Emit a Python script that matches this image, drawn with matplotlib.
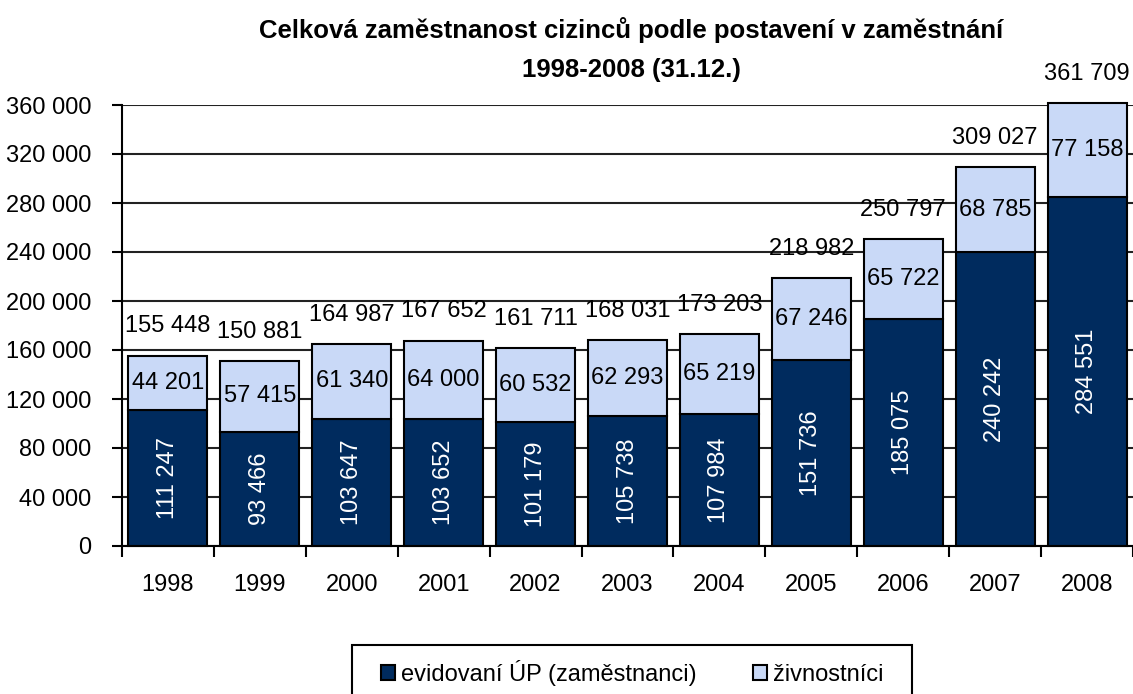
import matplotlib
matplotlib.use("Agg")
import matplotlib.pyplot as plt
from matplotlib.patches import Rectangle
import numpy as np

years = ["1998", "1999", "2000", "2001", "2002", "2003", "2004", "2005", "2006", "2007", "2008"]
employees = [111247, 93466, 103647, 103652, 101179, 105738, 107984, 151736, 185075, 240242, 284551]
tradesmen = [44201, 57415, 61340, 64000, 60532, 62293, 65219, 67246, 65722, 68785, 77158]
totals = [155448, 150881, 164987, 167652, 161711, 168031, 173203, 218982, 250797, 309027, 361709]
yticks = [0, 40000, 80000, 120000, 160000, 200000, 240000, 280000, 320000, 360000]

title = "Celková zaměstnanost cizinců podle postavení v zaměstnání\n1998-2008 (31.12.)"
label_emp = "evidovaní ÚP (zaměstnanci)"
label_tr = "živnostníci"

def fmt(v):
    return f"{v:,}".replace(",", " ")

plt.rcParams['font.family'] = ['Liberation Sans', 'DejaVu Sans']

fig = plt.figure(figsize=(11.33, 6.94), dpi=100)
ax = fig.add_axes([122/1133, 1-546/694, 1-122/1133, (546-105)/694])

dark = '#002B5E'
light = '#C9D9F7'
x = np.arange(len(years))
w = 0.86
b1 = ax.bar(x, employees, w, color=dark, edgecolor='black', linewidth=1.5, label=label_emp, zorder=3, clip_on=False)
b2 = ax.bar(x, tradesmen, w, bottom=employees, color=light, edgecolor='black', linewidth=1.5, label=label_tr, zorder=3, clip_on=False)

fs = 17
for i in range(len(years)):
    ax.text(x[i], employees[i]/2, fmt(employees[i]), rotation=90, ha='center', va='center',
            color='white', fontsize=fs, zorder=4)
    ax.text(x[i], employees[i] + tradesmen[i]/2, fmt(tradesmen[i]), ha='center', va='center',
            color='black', fontsize=fs, zorder=4)
    ax.annotate(fmt(totals[i]), (x[i], totals[i]), xytext=(0, 21), textcoords='offset points',
                ha='center', va='center', color='black', fontsize=fs, zorder=4, annotation_clip=False)

ax.set_xlim(-0.5, len(years) - 0.5)
ax.set_ylim(0, 360000)
ax.set_yticks(yticks)
ax.set_yticklabels([fmt(v) for v in yticks], fontsize=fs)
ax.yaxis.grid(True, color='#222222', linewidth=1.5, zorder=0)
ax.set_xticks(x)
ax.set_xticklabels(years, fontsize=fs)
ax.tick_params(axis='x', length=0, pad=20)
ax.set_xticks(np.arange(-0.5, len(years)), minor=True)
ax.tick_params(axis='x', which='minor', length=8, width=1.5, direction='out')
ax.tick_params(axis='y', length=7, width=1.5, direction='out', pad=15)
for s in ['top', 'right']:
    ax.spines[s].set_visible(False)
for s in ['left', 'bottom']:
    ax.spines[s].set_linewidth(1.5)
    ax.spines[s].set_zorder(5)

fig.text(631/1133, 1-30/694, title.split("\n")[0], ha='center', va='center', fontsize=18.5, fontweight='bold')
fig.text(631/1133, 1-70/694, title.split("\n")[1], ha='center', va='center', fontsize=18.5, fontweight='bold')

leg = fig.legend(handles=[b1, b2], loc='upper center', bbox_to_anchor=(632/1133, 1-648/694), ncol=2,
                 fontsize=fs, frameon=False,
                 handlelength=0.6, handleheight=0.6, handletextpad=0.25, columnspacing=2.4,
                 borderpad=0.5, borderaxespad=0)
frame = Rectangle((352/1133, -0.05), (912-352)/1133, (1-645/694) + 0.05, transform=fig.transFigure,
                  fill=False, edgecolor='black', linewidth=1.5)
fig.add_artist(frame)

fig.savefig("out.png", dpi=100)
